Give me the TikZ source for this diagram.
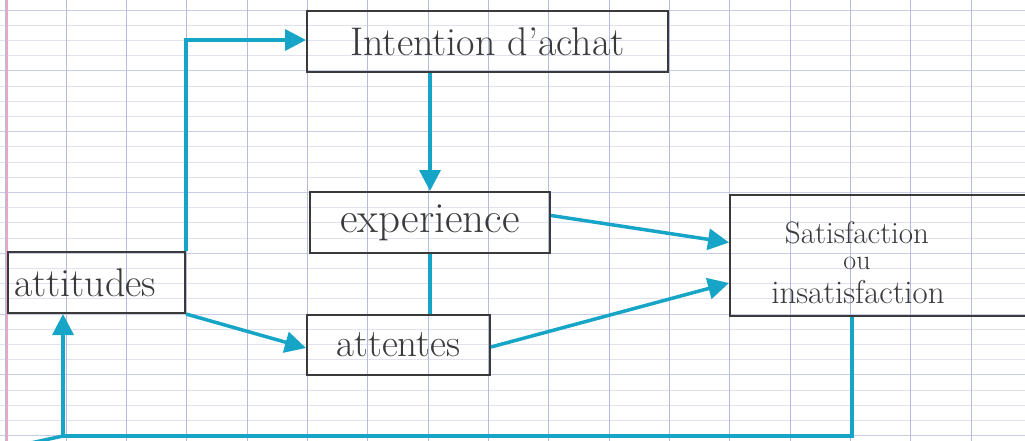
\documentclass[tikz,border=0pt]{standalone}
\usetikzlibrary{arrows.meta}
\definecolor{ink}{HTML}{16A5C7}
\definecolor{pencil}{HTML}{3A3A3A}
\definecolor{gridblue}{HTML}{B6BADF}
\definecolor{gridmajor}{HTML}{C9CCE6}
\definecolor{gridfaint}{HTML}{E0E2F0}
\definecolor{marginred}{HTML}{EBA7C0}
\begin{document}
\begin{tikzpicture}[x=1pt,y=-1pt,
  box/.style={draw=pencil,line width=2pt,inner sep=0pt,text=pencil},
  conn/.style={draw=ink,line width=3.5pt},
  arr/.style={conn,-{Triangle[length=21pt,width=21pt]}},
  big/.style={font=\fontsize{#1}{#1}\selectfont},
  txt/.style={text=pencil,inner sep=0pt,anchor=base,font=\fontsize{#1}{#1}\selectfont}]
\useasboundingbox (0,0) rectangle (1025,441);
\fill[white] (0,0) rectangle (1025,441);
% graph paper
\foreach \i in {0,...,29} \draw[gridfaint,line width=0.8pt] (0,{10+15.2*\i}) -- (1025,{10+15.2*\i});
\foreach \i in {0,...,7} \draw[gridmajor,line width=0.9pt] (0,{10+60.8*\i}) -- (1025,{10+60.8*\i});
\foreach \i in {-1,...,16} \draw[gridblue,line width=1pt] ({66+60.35*\i},0) -- ({66+60.35*\i},441);
\draw[marginred,line width=1.2pt] (7,0) -- (7,441);
% boxes
\node[box,big=40,minimum width=177pt,minimum height=61pt,text width=165pt,align=left] (att) at (96.5,282.5) {attitudes};
\node[box,big=40,minimum width=361pt,minimum height=61pt] (int) at (487.5,41.5) {Intention d'achat};
\node[box,big=43,minimum width=240pt,minimum height=61pt] (exp) at (430,222.5) {experience};
\node[box,big=39,minimum width=183pt,minimum height=60pt] (ant) at (398.5,345) {attentes};
\node[box,minimum width=300pt,minimum height=121pt] (sat) at (880,255.5) {};
\node[txt=31] (sat1) at (857,243) {Satisfaction};
\node[txt=28] (sat2) at (857,269) {ou};
\node[txt=33] (sat3) at (858,303) {insatisfaction};
% connectors
\coordinate (fbr) at (852,436);
\coordinate (fbl) at (63,436);
\coordinate (stub) at (26,444);
\draw[arr] (att.north east) |- ([yshift=1.5pt]int.west);
\draw[arr] (exp.north |- int.south) -- (exp.north);
\draw[conn] (exp.south) -- (exp.south |- ant.north);
\draw[arr] (att.south east) -- ([yshift=-3pt]ant.west);
\draw[arr] ([yshift=7pt]exp.east) -- ([yshift=13pt]sat.west);
\draw[arr] ([yshift=-2pt]ant.east) -- ([yshift=-27.5pt]sat.west);
\draw[arr] (sat.south -| fbr) -- (fbr) -- (fbl) -- (fbl |- att.south);
\draw[conn] (fbl) -- (stub);
\end{tikzpicture}
\end{document}
